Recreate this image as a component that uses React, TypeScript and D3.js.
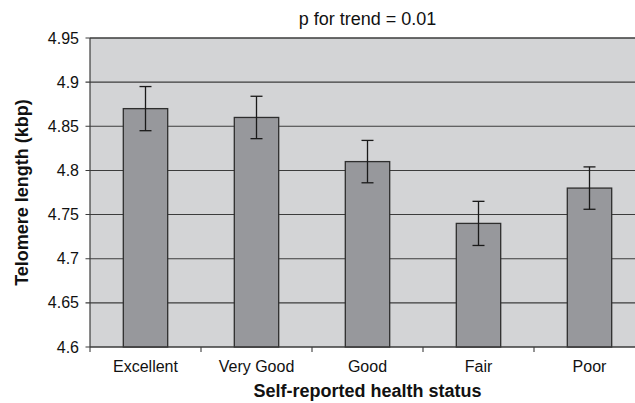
import React from "react";
import * as d3 from "d3";

const categories = ["Excellent", "Very Good", "Good", "Fair", "Poor"];
const values = [4.87, 4.86, 4.81, 4.74, 4.78];
const errors = [0.025, 0.024, 0.024, 0.025, 0.024];
const yTicks = [4.6, 4.65, 4.7, 4.75, 4.8, 4.85, 4.9, 4.95];
const yTickLabels = ["4.6", "4.65", "4.7", "4.75", "4.8", "4.85", "4.9", "4.95"];
const titleText = "p for trend = 0.01";
const xTitle = "Self-reported health status";
const yTitle = "Telomere length (kbp)";

const W = 635;
const H = 403;
const M = { left: 90, right: 645, top: 38, bottom: 347 };
const FONT = "'Liberation Sans', Arial, sans-serif";

export default function App() {
  const x = d3.scaleBand<string>().domain(categories).range([M.left, M.right]).padding(0);
  const y = d3.scaleLinear().domain([4.6, 4.95]).range([M.bottom, M.top]);
  const bw = x.bandwidth() * 0.4;
  const cap = 6;
  const gridColor = "#3c3c3c";

  return (
    <svg width={W} height={H} style={{ position: "absolute", left: 0, top: 0, background: "#fff" }}>
      <rect x={M.left} y={M.top} width={M.right - M.left} height={M.bottom - M.top} fill="#d3d4d6" />
      {yTicks.map((t, i) => (
        <g key={i}>
          <line x1={M.left - 4.5} x2={M.right} y1={y(t)} y2={y(t)} stroke={gridColor} strokeWidth={1.1} />
          <text x={79} y={y(t) + 5.5} textAnchor="end" fontFamily={FONT} fontSize={16} fill="#111">
            {yTickLabels[i]}
          </text>
        </g>
      ))}
      {categories.map((c, i) => {
        const cx = (x(c) as number) + x.bandwidth() / 2;
        const v = values[i];
        const e = errors[i];
        return (
          <g key={c}>
            <rect x={cx - bw / 2} y={y(v)} width={bw} height={y(4.6) - y(v)} fill="#97989c" stroke="#2e2e2e" strokeWidth={1.3} />
            <line x1={cx} x2={cx} y1={y(v + e)} y2={y(v - e)} stroke="#1a1a1a" strokeWidth={1.3} />
            <line x1={cx - cap} x2={cx + cap} y1={y(v + e)} y2={y(v + e)} stroke="#1a1a1a" strokeWidth={1.3} />
            <line x1={cx - cap} x2={cx + cap} y1={y(v - e)} y2={y(v - e)} stroke="#1a1a1a" strokeWidth={1.3} />
            <text x={cx} y={372} textAnchor="middle" fontFamily={FONT} fontSize={16} fill="#111">
              {c}
            </text>
          </g>
        );
      })}
      {categories.map((c, i) => (
        <line key={"t" + i} x1={x(c) as number} x2={x(c) as number} y1={M.bottom} y2={M.bottom + 5} stroke={gridColor} strokeWidth={1.1} />
      ))}
      <line x1={M.left} x2={M.left} y1={M.top} y2={M.bottom} stroke={gridColor} strokeWidth={1.2} />
      <line x1={M.left} x2={M.right} y1={M.bottom} y2={M.bottom} stroke={gridColor} strokeWidth={1.2} />
      <line x1={M.left} x2={M.right} y1={M.top} y2={M.top} stroke={gridColor} strokeWidth={1.2} />
      <text x={(M.left + M.right) / 2} y={25} textAnchor="middle" fontFamily={FONT} fontSize={18} fill="#111">
        {titleText}
      </text>
      <text x={(M.left + M.right) / 2} y={397} textAnchor="middle" fontFamily={FONT} fontSize={18} fontWeight="bold" fill="#111">
        {xTitle}
      </text>
      <text transform={`translate(28,${(M.top + M.bottom) / 2}) rotate(-90)`} textAnchor="middle" fontFamily={FONT} fontSize={18} fontWeight="bold" fill="#111">
        {yTitle}
      </text>
    </svg>
  );
}
